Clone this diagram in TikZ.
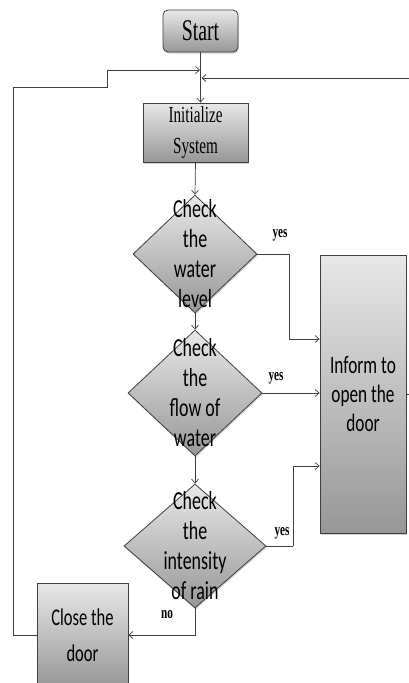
\documentclass[tikz,border=0pt]{standalone}
\usepackage{fontspec}
\newfontfamily\condserif[FakeStretch=0.66]{Liberation Serif}
\newfontfamily\condsans[FakeStretch=0.69]{Carlito}
\usetikzlibrary{shapes.geometric}
\usetikzlibrary{arrows.meta}
\usetikzlibrary{shadows}

\definecolor{linegray}{HTML}{3F3F3F}
\definecolor{filltop}{HTML}{E8E8E8}
\definecolor{fillbot}{HTML}{979797}

\tikzset{
  grayfill/.style={draw=linegray, line width=0.8pt, top color=filltop, bottom color=fillbot,
    drop shadow={shadow xshift=0.8pt, shadow yshift=-1.6pt, opacity=0.35}},
  startnode/.style={grayfill, rounded corners=5pt, inner sep=0pt,
    font=\condserif\fontsize{30}{32}\selectfont},
  procbox/.style={grayfill, inner sep=0pt, align=center},
  decision/.style={grayfill, diamond, inner sep=0pt},
  dtext/.style={align=center, font=\condsans\fontsize{26}{30}\selectfont},
  flow/.style={draw=linegray, line width=0.7pt, -{Straight Barb[length=4pt,width=7pt]}},
  link/.style={draw=linegray, line width=0.7pt},
  answer/.style={font=\condserif\bfseries\fontsize{17}{17}\selectfont},
}

\begin{document}
\begin{tikzpicture}[x=1pt, y=-1pt]
\useasboundingbox (0,0) rectangle (409,683);

\node[startnode, minimum width=75pt, minimum height=42pt] (start) at (200.5,31) {Start};
\node[procbox, minimum width=105pt, minimum height=59pt,
  font=\condserif\fontsize{23}{31}\selectfont] (init) at (195.5,132.5) {Initialize\\System};

% the three checks
\node[decision, minimum width=124pt, minimum height=118pt] (d1) at (195,254) {};
\node[dtext] (d1-txt) at (d1.center) {Check\\the\\water\\level};
\node[decision, minimum width=134pt, minimum height=126pt] (d2) at (195,393) {};
\node[dtext] (d2-txt) at (d2.center) {Check\\the\\flow of\\water};
\node[decision, minimum width=142pt, minimum height=124pt] (d3) at (195,546) {};
\node[dtext] (d3-txt) at (d3.center) {Check\\the\\intensity\\of rain};

\node[procbox, minimum width=86pt, minimum height=278pt,
  font=\condsans\fontsize{25}{29}\selectfont] (inform) at (363,394) {Inform to\\open the\\door};
\node[procbox, minimum width=91pt, minimum height=104pt,
  font=\condsans\fontsize{24}{36}\selectfont] (close) at (82.5,635) {Close the\\door};

\node[answer] (yes1) at (280,235) {yes};
\node[answer] (yes2) at (276,378) {yes};
\node[answer] (yes3) at (282,533) {yes};
\node[answer] (no) at (167,615) {no};

\coordinate (merge-l) at (200,70);
\coordinate (merge-r) at (201.5,78);
\coordinate (loop-a) at (13,87);
\coordinate (loop-b) at (107,87);
\coordinate (ret) at (410.5,78);
\coordinate (bend1) at (289,254);
\coordinate (bend3) at (293,546);

\draw[flow] (start.south) -- (start.south |- init.north);
\draw[flow] (init.south) -- (d1.north);
\draw[flow] (d1.south) -- (d2.north);
\draw[flow] (d2.south) -- (d3.north);

% yes branches
\draw[link] (d1.east) -- (bend1);
\draw[flow] (bend1) |- ([yshift=55pt]inform.west);
\draw[flow] (d2.east) -- (d2.east -| inform.west);
\draw[link] (d3.east) -- (bend3);
\draw[flow] (bend3) |- ([yshift=-72pt]inform.west);

% no branch and loop back
\draw[flow] (d3.south) |- (close.east);
\draw[flow] (close.west) -| (loop-a) -- (loop-b) |- (merge-l);
\draw[flow] (inform.east) -| (ret) -- (merge-r);

\end{tikzpicture}
\end{document}
